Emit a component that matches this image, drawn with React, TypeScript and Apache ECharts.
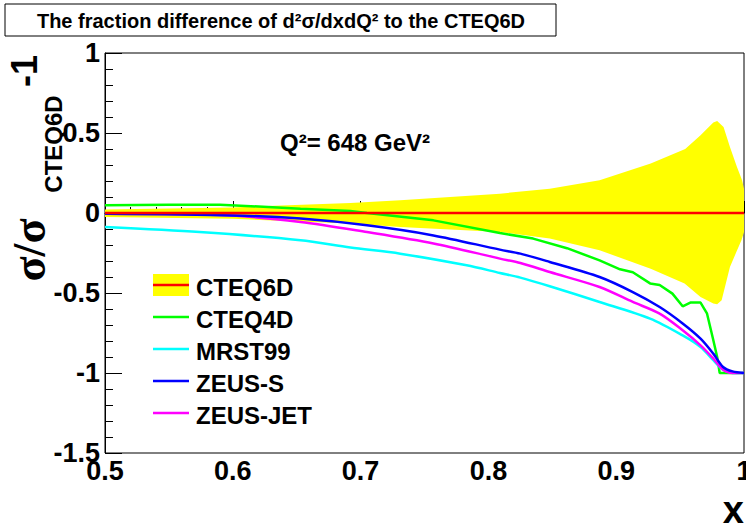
import React, { useEffect, useRef } from 'react';
import * as echarts from 'echarts';

const FONT = '"Liberation Sans", Arial, Helvetica, sans-serif';

const xTicks = { min: 0.5, max: 1, interval: 0.1 };
const yTicks = { min: -1.5, max: 1, interval: 0.5 };

const bandUpper: [number, number][] = [
  [0.5, 0.022], [0.6, 0.035], [0.692, 0.063], [0.731, 0.079], [0.809, 0.121], [0.848, 0.152],
  [0.887, 0.204], [0.927, 0.309], [0.954, 0.4], [0.966, 0.486], [0.976, 0.565], [0.979, 0.575],
  [0.984, 0.5375], [0.989, 0.4125], [0.9945, 0.2875], [0.9985, 0.204], [1.0, 0.152],
];
const bandLower: [number, number][] = [
  [0.5, -0.025], [0.6, -0.036], [0.692, -0.066], [0.731, -0.0875], [0.809, -0.119], [0.848, -0.16],
  [0.887, -0.233], [0.927, -0.348], [0.9535, -0.441], [0.966, -0.525], [0.976, -0.566], [0.979, -0.571],
  [0.9825, -0.546], [0.989, -0.3375], [0.994, -0.244], [0.998, -0.17], [1.0, -0.119],
];
const cteq6d: [number, number][] = [[0.5, 0], [1.0, 0]];
const cteq4d: [number, number][] = [
  [0.5, 0.048], [0.55, 0.052], [0.59, 0.052], [0.653, 0.027], [0.692, 0.0125], [0.705, 0.0],
  [0.757, -0.046], [0.809, -0.125], [0.835, -0.16], [0.8615, -0.22], [0.887, -0.296], [0.903, -0.352],
  [0.913, -0.37], [0.9265, -0.44], [0.934, -0.45], [0.944, -0.504], [0.952, -0.583], [0.958, -0.56],
  [0.966, -0.56], [0.971, -0.627], [0.976, -0.795], [0.979, -0.9], [0.981, -1.0], [1.0, -1.0],
];
const mrst99: [number, number][] = [
  [0.5, -0.0875], [0.574, -0.119], [0.653, -0.17], [0.692, -0.216], [0.731, -0.254], [0.783, -0.327],
  [0.809, -0.375], [0.825, -0.404], [0.848, -0.458], [0.887, -0.556], [0.9265, -0.66], [0.952, -0.765],
  [0.966, -0.8375], [0.976, -0.92], [0.9836, -0.98], [0.991, -1.0], [1.0, -1.0],
];
const zeusS: [number, number][] = [
  [0.5, -0.005], [0.6, -0.015], [0.653, -0.035], [0.705, -0.077], [0.757, -0.14], [0.809, -0.229],
  [0.825, -0.254], [0.848, -0.306], [0.887, -0.4], [0.913, -0.494], [0.934, -0.5875], [0.952, -0.69],
  [0.966, -0.785], [0.976, -0.879], [0.9836, -0.9625], [0.991, -0.99], [1.0, -1.0],
];
const zeusJet: [number, number][] = [
  [0.5, -0.005], [0.59, -0.012], [0.653, -0.056], [0.705, -0.119], [0.757, -0.19], [0.809, -0.285],
  [0.825, -0.3125], [0.848, -0.369], [0.887, -0.4625], [0.913, -0.556], [0.934, -0.629], [0.952, -0.733],
  [0.966, -0.827], [0.976, -0.91], [0.9836, -0.98], [0.991, -1.0], [1.0, -1.0],
];

const legendNames = ['CTEQ6D', 'CTEQ4D', 'MRST99', 'ZEUS-S', 'ZEUS-JET'];
const legendColors = ['#ff0000', '#00ff00', '#00ffff', '#0000ff', '#ff00ff'];

export default function App() {
  const ref = useRef<HTMLDivElement>(null);
  useEffect(() => {
    const chart = echarts.init(ref.current!, null, { renderer: 'svg' });
    const lineSeries = (name: string, data: [number, number][], color: string, z: number, smooth: number | boolean) => ({
      type: 'line',
      name,
      data,
      showSymbol: false,
      symbol: 'none',
      smooth,
      lineStyle: { color, width: 2.5 },
      itemStyle: { color },
      z,
      animation: false,
    });
    const legendGraphics: any[] = [];
    const legendY = [286, 318, 350, 382, 414];
    legendGraphics.push({
      type: 'rect', shape: { x: 153, y: 274, width: 36, height: 22 }, style: { fill: '#ffff00' }, z: 10,
    });
    legendNames.forEach((n, i) => {
      legendGraphics.push({
        type: 'line', shape: { x1: 153, y1: legendY[i] - 1, x2: 189, y2: legendY[i] - 1 },
        style: { stroke: legendColors[i], lineWidth: 2.5 }, z: 11,
      });
      legendGraphics.push({
        type: 'text', x: 196, y: legendY[i] + 1, z: 11,
        style: { text: n, fontFamily: FONT, fontWeight: 'bold', fontSize: 24, fill: '#000', align: 'left', verticalAlign: 'middle' },
      });
    });

    chart.setOption({
      animation: false,
      backgroundColor: '#ffffff',
      grid: {
        left: 105, right: 2, top: 53, bottom: 71,
        show: true, borderColor: '#000', borderWidth: 1, backgroundColor: 'transparent',
        outerBoundsMode: 'none', containLabel: false,
      },
      xAxis: {
        type: 'value', min: xTicks.min, max: xTicks.max, interval: xTicks.interval,
        axisLine: { show: true, lineStyle: { color: '#000', width: 1 } },
        axisTick: { show: true, inside: true, length: 12, lineStyle: { color: '#000' } },
        minorTick: { show: true, splitNumber: 5, length: 6, lineStyle: { color: '#000' } },
        splitLine: { show: false },
        axisLabel: {
          show: true, showMinLabel: true, showMaxLabel: true, margin: 4,
          fontFamily: FONT, fontWeight: 'bold', fontSize: 27, color: '#000',
        },
      },
      yAxis: {
        type: 'value', min: yTicks.min, max: yTicks.max, interval: yTicks.interval,
        axisLine: { show: true, lineStyle: { color: '#000', width: 1 } },
        axisTick: { show: true, inside: true, length: 17, lineStyle: { color: '#000' } },
        minorTick: { show: true, splitNumber: 5, length: 8, lineStyle: { color: '#000' } },
        splitLine: { show: false },
        axisLabel: {
          show: true, showMinLabel: true, showMaxLabel: true, margin: 5,
          fontFamily: FONT, fontWeight: 'bold', fontSize: 27, color: '#000',
          padding: [8, 0, 0, 0],
        },
      },
      series: [
        {
          type: 'custom',
          name: 'band',
          data: [[0.75, 0]],
          z: 1,
          renderItem: (params: any, api: any) => {
            const pts = [
              ...bandUpper.map((p) => api.coord(p)),
              ...bandLower.slice().reverse().map((p) => api.coord(p)),
            ];
            return { type: 'polygon', shape: { points: pts }, style: { fill: '#ffff00', stroke: 'none' } };
          },
        },
        lineSeries('CTEQ4D', cteq4d, '#00ff00', 3, false),
        lineSeries('MRST99', mrst99, '#00ffff', 3, 0.3),
        lineSeries('ZEUS-JET', zeusJet, '#ff00ff', 3, 0.3),
        lineSeries('ZEUS-S', zeusS, '#0000ff', 4, 0.3),
        lineSeries('CTEQ6D', cteq6d, '#ff0000', 5, false),
      ],
      graphic: [
        {
          type: 'rect', shape: { x: 5, y: 4, width: 551, height: 32 },
          style: { fill: '#fff', stroke: '#000', lineWidth: 1 },
        },
        {
          type: 'text', x: 281, y: 21,
          style: {
            text: 'The fraction difference of d²σ/dxdQ² to the CTEQ6D',
            fontFamily: FONT, fontWeight: 'bold', fontSize: 20, fill: '#000', align: 'center', verticalAlign: 'middle',
          },
        },
        {
          type: 'text', x: 355, y: 142,
          style: {
            text: 'Q²= 648 GeV²', fontFamily: FONT, fontWeight: 'bold', fontSize: 24, fill: '#000',
            align: 'center', verticalAlign: 'middle',
          },
        },
        {
          type: 'text', x: 29, y: 250, rotation: Math.PI / 2,
          style: {
            text: 'σ/σ', fontFamily: '"Liberation Serif", "DejaVu Serif", serif', fontWeight: 'bold', fontSize: 46, fill: '#000',
            align: 'center', verticalAlign: 'middle',
          },
        },
        {
          type: 'text', x: 53, y: 144, rotation: Math.PI / 2,
          style: {
            text: 'CTEQ6D', fontFamily: FONT, fontWeight: 'bold', fontSize: 24, fill: '#000',
            align: 'center', verticalAlign: 'middle',
          },
        },
        {
          type: 'text', x: 24, y: 71, rotation: Math.PI / 2,
          style: {
            text: '-1', fontFamily: FONT, fontWeight: 'bold', fontSize: 36, fill: '#000',
            align: 'center', verticalAlign: 'middle',
          },
        },
        {
          type: 'text', x: 744, y: 510,
          style: {
            text: 'x', fontFamily: FONT, fontWeight: 'bold', fontSize: 38, fill: '#000',
            align: 'right', verticalAlign: 'middle',
          },
        },
        ...legendGraphics,
      ],
    });
    return () => chart.dispose();
  }, []);
  return <div ref={ref} style={{ width: 746, height: 524, position: 'absolute', left: 0, top: 0 }} />;
}
